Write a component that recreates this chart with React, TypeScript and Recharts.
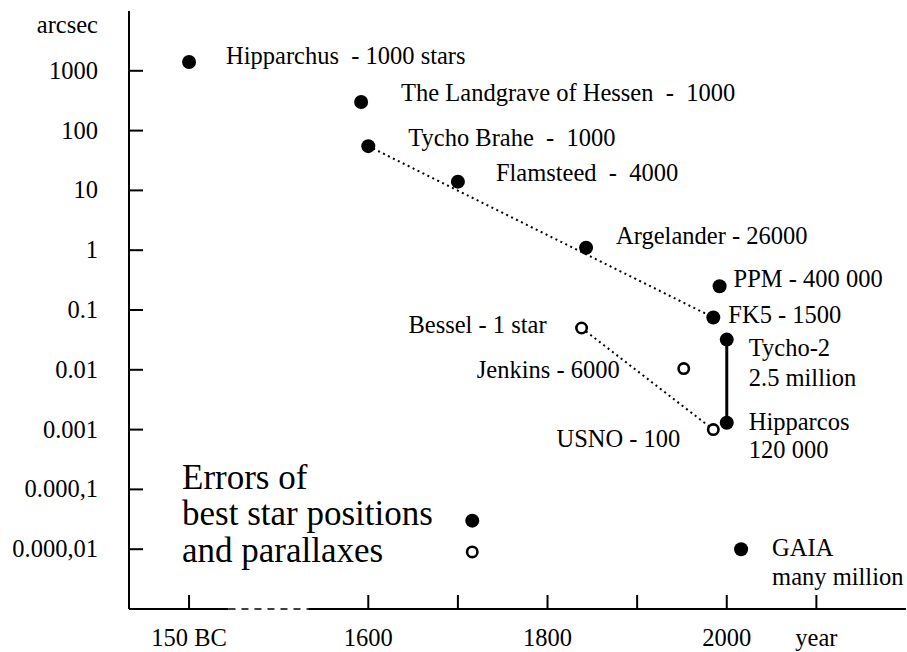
import { ComposedChart, XAxis, YAxis, Scatter, ReferenceLine } from 'recharts'

// x axis is broken: 150 BC is drawn at 1400
const BC_150 = 1400
const X_DOMAIN = [1333, 2200]
const X_BREAK = [1444, 1533]
const X_TICKS = [BC_150, 1600, 1700, 1800, 1900, 2000, 2100]
const X_TICK_LABELS = ['150 BC', '1600', '', '1800', '', '2000', 'year']
const X_TOP_TICKS = [1600, 1700, 1800, 1900, 2000, 2100]

const Y_DOMAIN = [1e-6, 1e4]
const Y_TICKS = [1000, 100, 10, 1, 0.1, 0.01, 0.001, 0.0001, 0.00001]
const Y_TICK_LABELS = ['1000', '100', '10', '1', '0.1', '0.01', '0.001', '0.000,1', '0.000,01']

// positions (filled dots)
const posNames = ['Hipparchus', 'Landgrave', 'Tycho Brahe', 'Flamsteed', 'Argelander', 'PPM', 'FK5', 'Tycho-2', 'Hipparcos', 'GAIA']
const posYears = [BC_150, 1592, 1600, 1700, 1843, 1992, 1985, 2000, 2000, 2016]
const posErrors = [1400, 300, 55, 14, 1.1, 0.25, 0.075, 0.032, 0.0013, 0.00001]

// parallaxes (open dots)
const parNames = ['Bessel', 'Jenkins', 'USNO']
const parYears = [1838, 1952, 1985]
const parErrors = [0.05, 0.0105, 0.001]

// legend markers
const keyYears = [1716, 1716]
const keyErrors = [3e-5, 9e-6]

const labelText: Record<string, string[]> = {
  Hipparchus: ['Hipparchus  - 1000 stars'],
  Landgrave: ['The Landgrave of Hessen  -  1000'],
  'Tycho Brahe': ['Tycho Brahe  -  1000'],
  Flamsteed: ['Flamsteed  -  4000'],
  Argelander: ['Argelander - 26000'],
  PPM: ['PPM - 400 000'],
  FK5: ['FK5 - 1500'],
  'Tycho-2': ['Tycho-2', '2.5 million'],
  Hipparcos: ['Hipparcos', '120 000'],
  GAIA: ['GAIA', 'many million'],
  Bessel: ['Bessel - 1 star'],
  Jenkins: ['Jenkins - 6000'],
  USNO: ['USNO - 100'],
}

// label placement relative to the dot: dx, baseline dy, line step, anchor
const labelPlace: Record<string, [number, number, number, string]> = {
  Hipparchus: [37, 2, 0, 'start'],
  Landgrave: [40, -1, 0, 'start'],
  'Tycho Brahe': [40, 0, 0, 'start'],
  Flamsteed: [38, -1, 0, 'start'],
  Argelander: [30, -4, 0, 'start'],
  PPM: [14, 1, 0, 'start'],
  FK5: [15, 6, 0, 'start'],
  'Tycho-2': [22, 16, 30, 'start'],
  Hipparcos: [22, 7, 28, 'start'],
  GAIA: [31, 7, 29, 'start'],
  Bessel: [-35, 5, 0, 'end'],
  Jenkins: [-64, 9, 0, 'end'],
  USNO: [-33, 17, 0, 'end'],
}

const toRows = (names: string[] | null, years: number[], errs: number[]) =>
  years.map((year, i) => ({ name: names ? names[i] : '', year, err: errs[i] }))

const positions = toRows(posNames, posYears, posErrors)
const parallaxes = toRows(parNames, parYears, parErrors)
const keyMarks = toRows(null, keyYears, keyErrors)
const pick = (rows: any[], names: string[]) => names.map((n) => rows.find((r) => r.name === n))

const FONT = '"Liberation Serif", "Times New Roman", Times, serif'
const FS = 24.5

function DotLabel({ cx, cy, name }: { cx: number; cy: number; name: string }) {
  const lines = labelText[name]
  const place = labelPlace[name]
  if (!lines || !place) return null
  const [dx, dy, step, anchor] = place
  return (
    <text fontFamily={FONT} fontSize={FS} fill="#000" textAnchor={anchor as any} style={{ whiteSpace: 'pre' }}>
      {lines.map((t, i) => (
        <tspan key={i} x={cx + dx} y={cy + dy + i * step}>
          {t}
        </tspan>
      ))}
    </text>
  )
}

const FilledDot = (p: any) => (
  <g>
    <circle cx={p.cx} cy={p.cy} r={7} fill="#000" />
    <DotLabel cx={p.cx} cy={p.cy} name={p.payload?.name} />
  </g>
)

const OpenDot = (p: any) => (
  <g>
    <circle cx={p.cx} cy={p.cy} r={5.2} fill="#fff" stroke="#000" strokeWidth={2.6} />
    <DotLabel cx={p.cx} cy={p.cy} name={p.payload?.name} />
  </g>
)

const NoDot = () => <g />

const YTick = ({ x, y, payload }: any) => (
  <text x={x - 45} y={y + 8} textAnchor="end" fontFamily={FONT} fontSize={FS} fill="#000">
    {Y_TICK_LABELS[Y_TICKS.indexOf(payload.value)]}
  </text>
)

const XTick = ({ x, y, payload }: any) => (
  <text x={x} y={y + 51} textAnchor="middle" fontFamily={FONT} fontSize={FS} fill="#000">
    {X_TICK_LABELS[X_TICKS.indexOf(payload.value)]}
  </text>
)

const axisStroke = { stroke: '#000', strokeWidth: 2 }
const dotted = { stroke: '#000', strokeWidth: 2, strokeDasharray: '2 3.5' }

export default function App() {
  const yMin = Y_DOMAIN[0]
  return (
    <div style={{ position: 'absolute', left: 0, top: 0, background: '#fff' }}>
      <ComposedChart width={907} height={652} margin={{ top: 11, right: 1, bottom: 13, left: 69 }}>
        <XAxis
          xAxisId="bottom"
          dataKey="year"
          type="number"
          domain={X_DOMAIN}
          ticks={X_TICKS}
          interval={0}
          allowDataOverflow
          height={30}
          axisLine={false}
          tickSize={-14}
          tickMargin={0}
          tickLine={axisStroke}
          tick={<XTick />}
        />
        <XAxis
          xAxisId="top"
          orientation="top"
          type="number"
          domain={X_DOMAIN}
          ticks={X_TOP_TICKS}
          interval={0}
          allowDataOverflow
          height={0}
          axisLine={axisStroke}
          tickSize={-14}
          tickLine={axisStroke}
          tick={<NoDot />}
        />
        <YAxis
          yAxisId="left"
          dataKey="err"
          type="number"
          scale="log"
          domain={Y_DOMAIN}
          ticks={Y_TICKS}
          interval={0}
          allowDataOverflow
          width={60}
          axisLine={axisStroke}
          tickSize={-14}
          tickMargin={0}
          tickLine={axisStroke}
          tick={<YTick />}
        />
        <YAxis
          yAxisId="right"
          orientation="right"
          type="number"
          scale="log"
          domain={Y_DOMAIN}
          ticks={Y_TICKS}
          interval={0}
          allowDataOverflow
          width={0}
          axisLine={axisStroke}
          tickSize={-14}
          tickLine={axisStroke}
          tick={<NoDot />}
        />

        {/* broken bottom axis */}
        <ReferenceLine xAxisId="bottom" yAxisId="left" ifOverflow="visible" stroke="#000" strokeWidth={2}
          segment={[{ x: X_DOMAIN[0], y: yMin }, { x: X_BREAK[0], y: yMin }]} />
        <ReferenceLine xAxisId="bottom" yAxisId="left" ifOverflow="visible" stroke="#000" strokeWidth={1.5} strokeDasharray="7 6"
          segment={[{ x: X_BREAK[0], y: yMin }, { x: X_BREAK[1], y: yMin }]} />
        <ReferenceLine xAxisId="bottom" yAxisId="left" ifOverflow="visible" stroke="#000" strokeWidth={2}
          segment={[{ x: X_BREAK[1], y: yMin }, { x: X_DOMAIN[1], y: yMin }]} />

        {/* connecting lines */}
        <Scatter xAxisId="bottom" yAxisId="left" data={pick(positions, ['Tycho Brahe', 'FK5'])} line={dotted} shape={<NoDot />} isAnimationActive={false} />
        <Scatter xAxisId="bottom" yAxisId="left" data={pick(parallaxes, ['Bessel', 'USNO'])} line={dotted} shape={<NoDot />} isAnimationActive={false} />
        <Scatter xAxisId="bottom" yAxisId="left" data={pick(positions, ['Tycho-2', 'Hipparcos'])} line={{ stroke: '#000', strokeWidth: 3 }} shape={<NoDot />} isAnimationActive={false} />

        <Scatter xAxisId="bottom" yAxisId="left" data={positions} shape={FilledDot} isAnimationActive={false} />
        <Scatter xAxisId="bottom" yAxisId="left" data={parallaxes} shape={OpenDot} isAnimationActive={false} />
        <Scatter xAxisId="bottom" yAxisId="left" data={keyMarks.slice(0, 1)} shape={FilledDot} isAnimationActive={false} />
        <Scatter xAxisId="bottom" yAxisId="left" data={keyMarks.slice(1)} shape={OpenDot} isAnimationActive={false} />

        <text x={98} y={33} textAnchor="end" fontFamily={FONT} fontSize={FS} fill="#000">arcsec</text>
        <text fontFamily={FONT} fontSize={35} fill="#000">
          <tspan x={182} y={489}>Errors of</tspan>
          <tspan x={182} y={525}>best star positions</tspan>
          <tspan x={182} y={562}>and parallaxes</tspan>
        </text>
      </ComposedChart>
    </div>
  )
}
